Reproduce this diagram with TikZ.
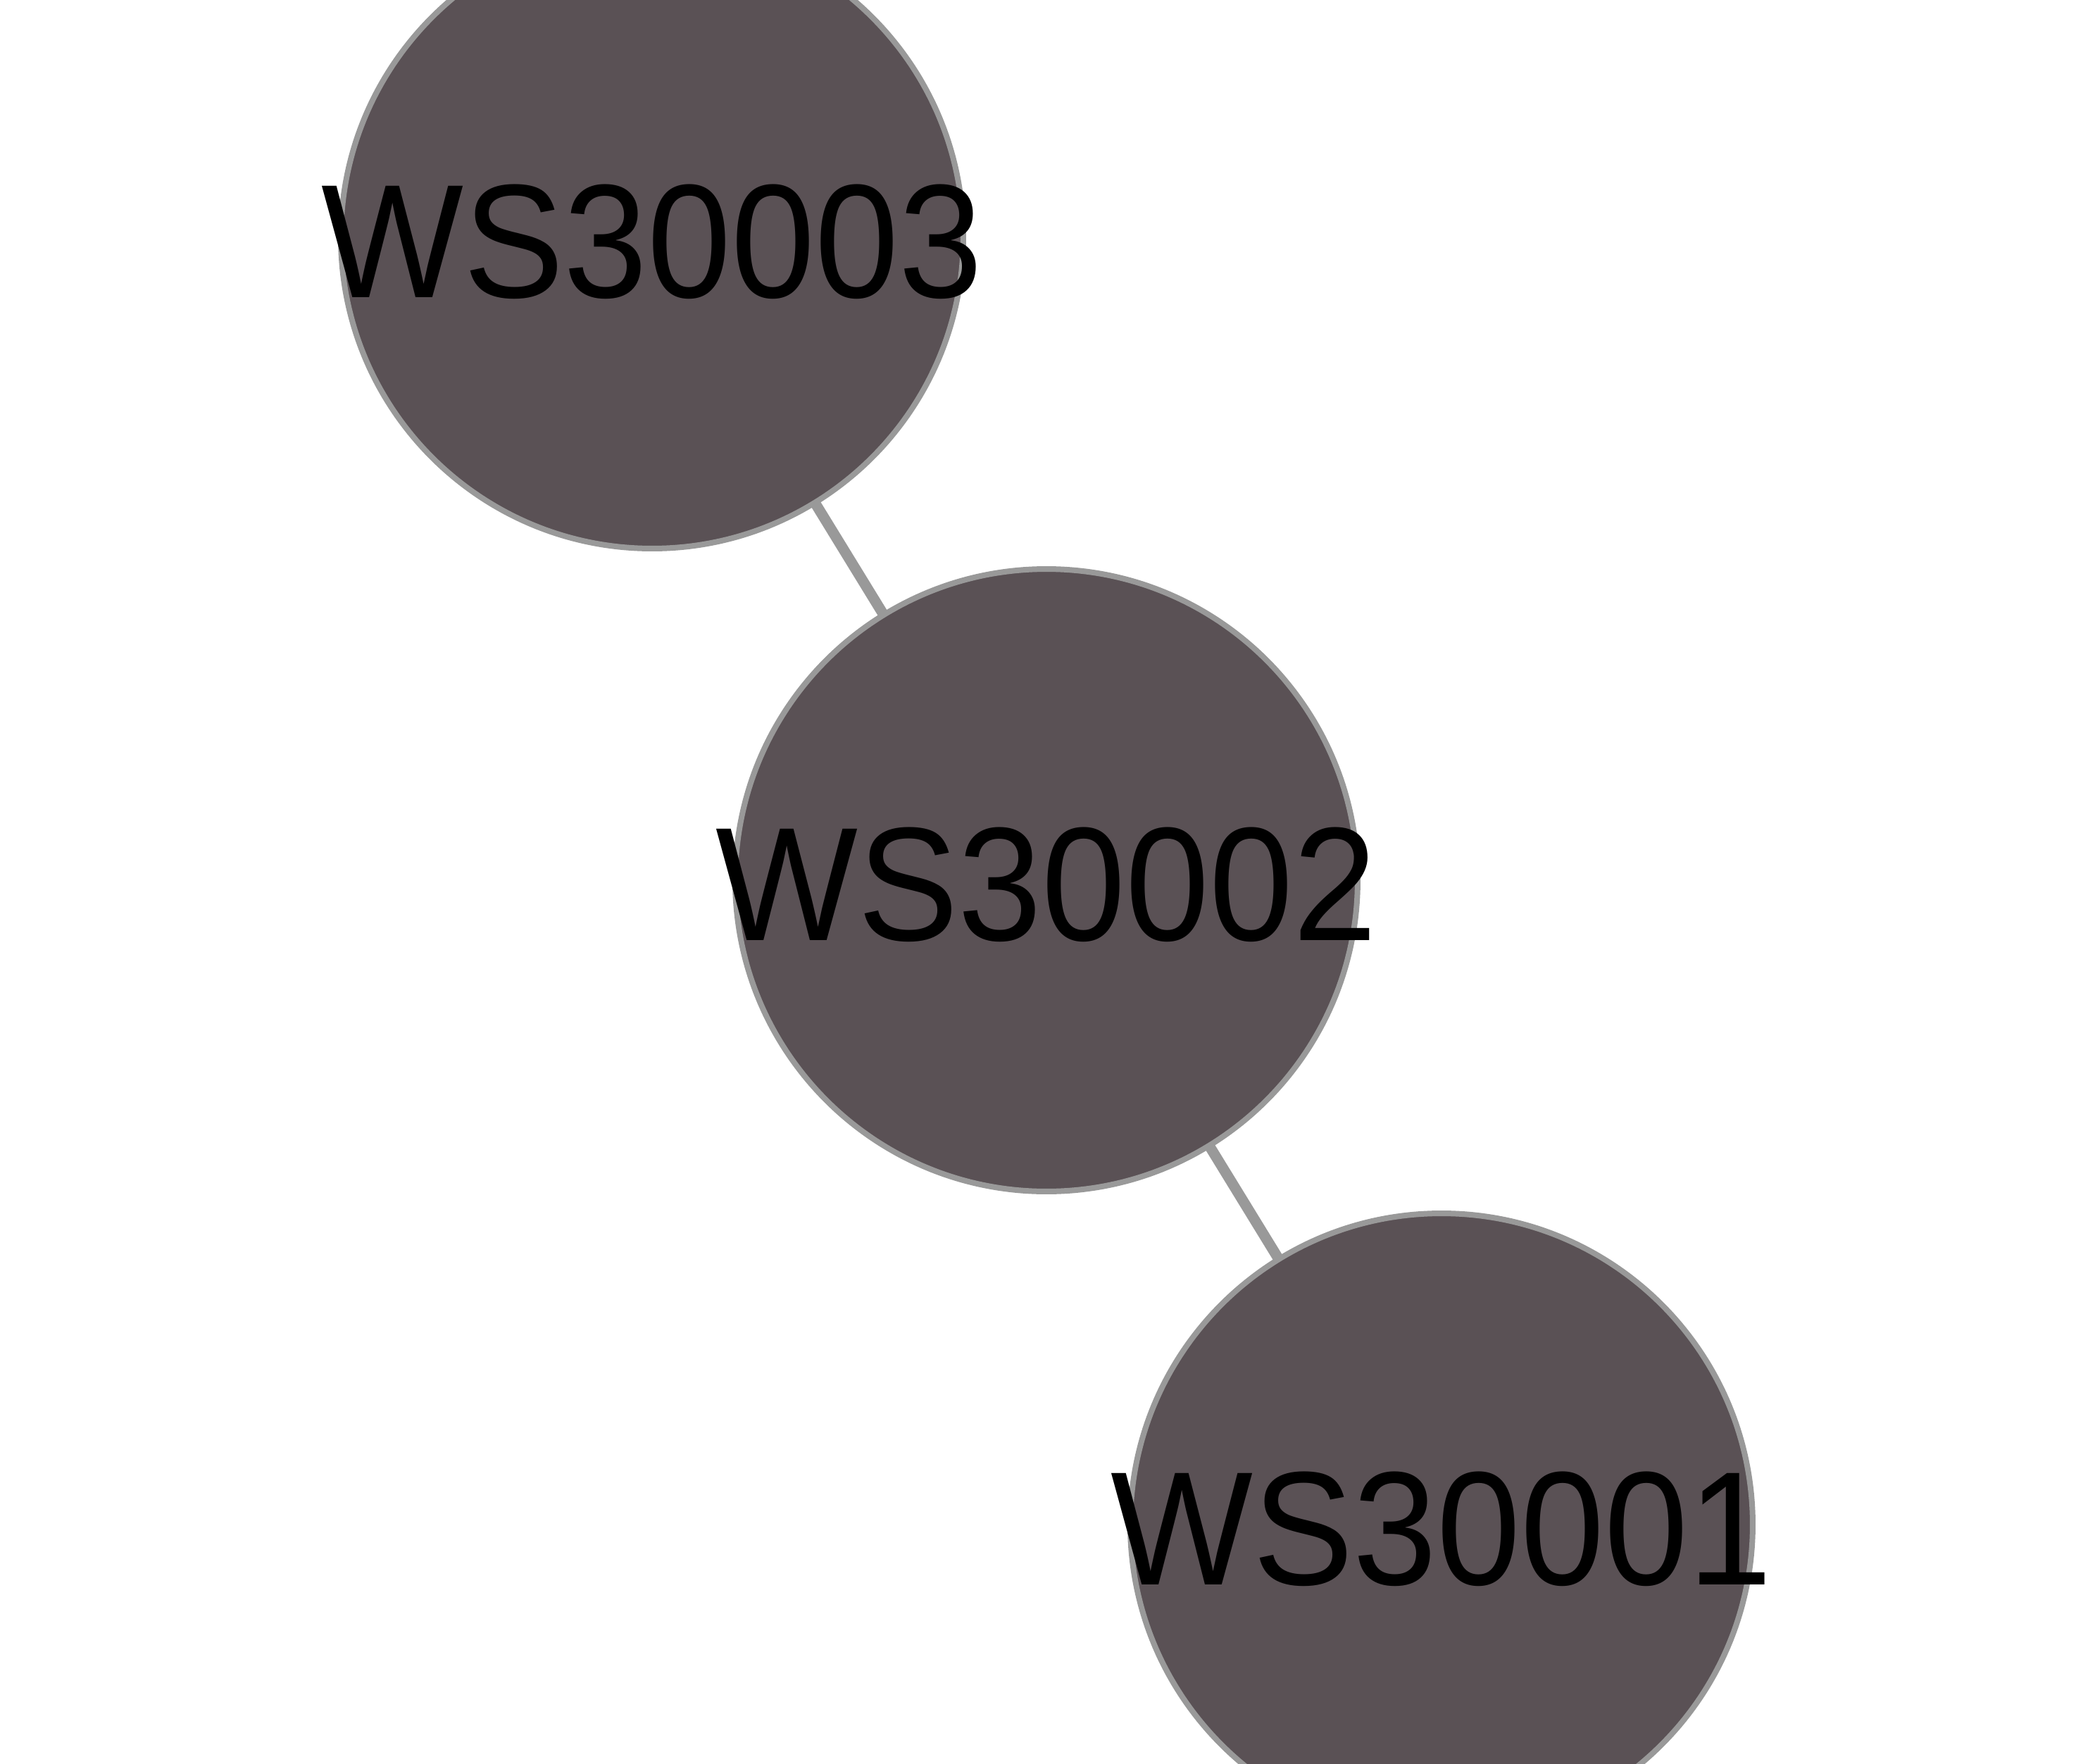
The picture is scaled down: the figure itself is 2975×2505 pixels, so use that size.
\documentclass[tikz,border=0pt]{standalone}
\usepackage{fontspec}
\setmainfont[FakeStretch=0.93]{Liberation Sans}
\usepackage{xcolor}
\usepackage{tikz}

\definecolor{nodefill}{HTML}{5A5155}
\definecolor{edgegray}{HTML}{999999}

\newcommand{\wslabel}[1]{\makebox[0pt][c]{\raisebox{-8.5pt}{#1}}}

\begin{document}
\begin{tikzpicture}[
  x=0.1pt, y=-0.1pt,
  font=\fontsize{23pt}{27pt}\selectfont,
  ws/.style={circle, draw=edgegray, fill=nodefill, line width=0.8pt,
             inner sep=0pt, outer sep=0pt, minimum size=88.4pt,
             text height=0pt, text depth=0pt},
  link/.style={draw=edgegray, line width=1.5pt}]

\useasboundingbox (0,0) rectangle (2975,2505);

\node[ws] (w3) at (926,337)   {\wslabel{WS30003}};
\node[ws] (w2) at (1486,1250) {\wslabel{WS30002}};
\node[ws] (w1) at (2047,2165) {\wslabel{WS30001}};

\draw[link] (w3) -- (w2);
\draw[link] (w2) -- (w1);
\end{tikzpicture}
\end{document}
